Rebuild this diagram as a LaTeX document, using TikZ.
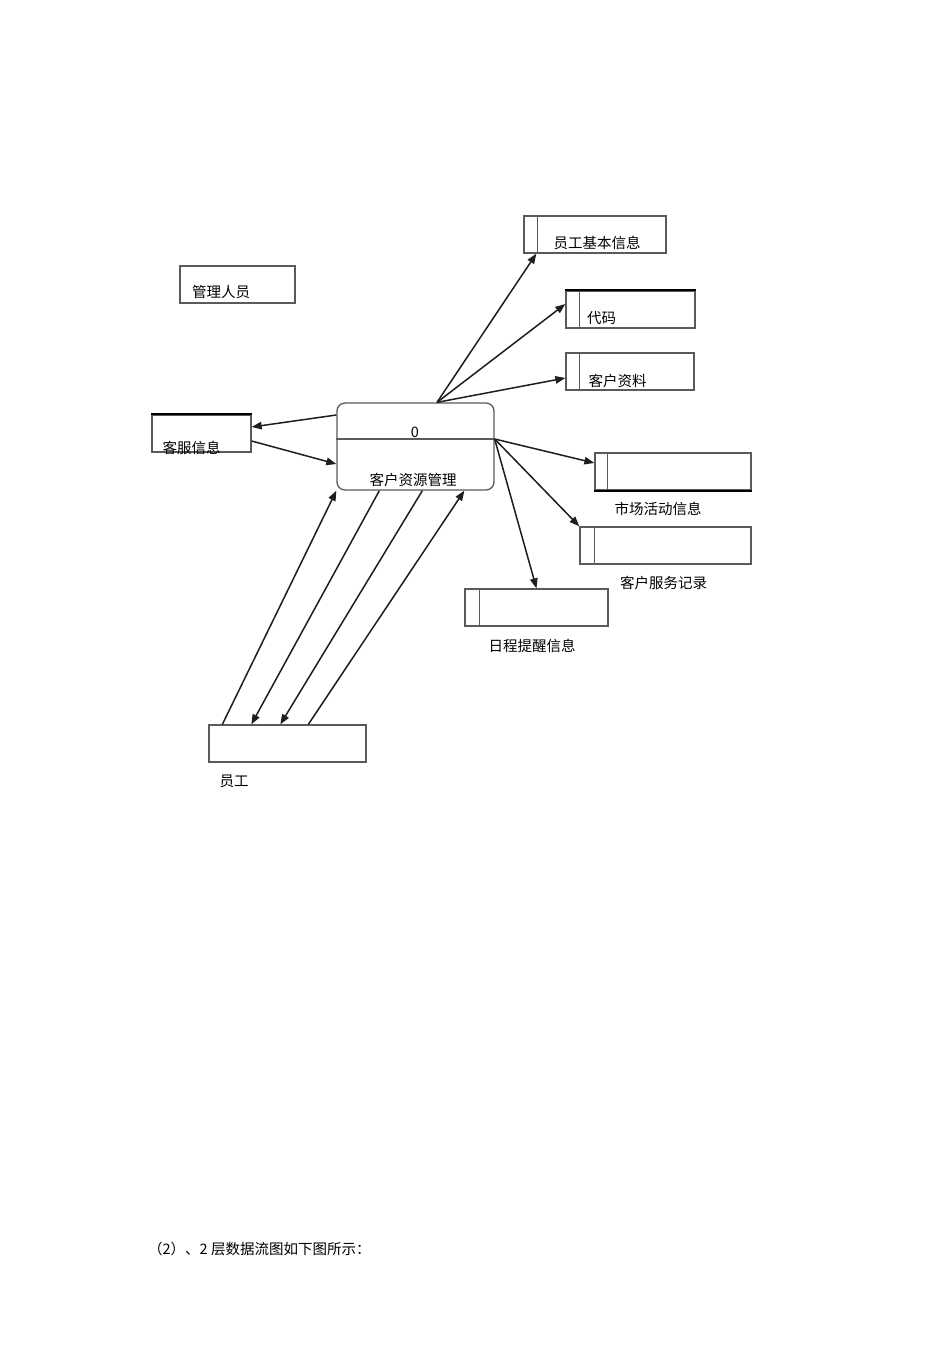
\documentclass[tikz,border=0pt]{standalone}
\usepackage{fontspec}
\newfontfamily\cjk{Noto Sans CJK SC}
\usetikzlibrary{arrows.meta}

\definecolor{boxgray}{HTML}{5A5A5A}
\definecolor{flowblack}{HTML}{1E1E1E}

\tikzset{
  box/.style={draw=boxgray, line width=1.3pt, minimum width=#1, minimum height=37pt, inner sep=0pt},
  lbl/.style={font=\cjk\fontsize{14.5}{16}\selectfont, inner sep=0pt},
  flow/.style={draw=flowblack, line width=1.5pt, -{Triangle[length=10pt,width=7.5pt]}},
}

\begin{document}
\begin{tikzpicture}[x=1pt,y=-1pt]
  \fill[white] (0,0) rectangle (950,1345);
  \useasboundingbox (0,0) rectangle (950,1345);

  % process 0
  \node[draw=boxgray, line width=1.3pt, rounded corners=8pt, minimum width=157pt, minimum height=87pt, inner sep=0pt] (proc) at (415.5,446.5) {};
  \draw[boxgray, line width=1.3pt] ([yshift=7.5pt]proc.west) -- ([yshift=7.5pt]proc.east);
  \node[lbl] (procnum) at (415,432) {0};
  \node[lbl] (procname) at (413,480) {客户资源管理};

  % external entities
  \node[box=115pt] (glry) at (237.5,284.5) {};
  \node[lbl] at (221,292) {管理人员};
  \node[box=99pt] (kfxx) at (201.5,433.5) {};
  \draw[line width=2pt] (kfxx.north west) -- (kfxx.north east);
  \node[lbl] at (191.5,448) {客服信息};
  \node[box=157pt] (yg) at (287.5,743.5) {};
  \node[lbl] at (234,781) {员工};

  % data stores
  \node[box=142pt] (ygjb) at (595,234.5) {};
  \draw[boxgray, line width=1.3pt] ([xshift=14pt]ygjb.north west) -- ([xshift=14pt]ygjb.south west);
  \node[lbl] at (597,243) {员工基本信息};

  \node[box=129pt] (dm) at (630.5,309.5) {};
  \draw[boxgray, line width=1.3pt] ([xshift=14pt]dm.north west) -- ([xshift=14pt]dm.south west);
  \draw[line width=2pt] (dm.north west) -- (dm.north east);
  \node[lbl] at (601.5,318) {代码};

  \node[box=128pt] (khzl) at (630,371.5) {};
  \draw[boxgray, line width=1.3pt] ([xshift=14pt]khzl.north west) -- ([xshift=14pt]khzl.south west);
  \node[lbl] at (617.5,381) {客户资料};

  \node[box=156pt] (schd) at (673,471.5) {};
  \draw[boxgray, line width=1.3pt] ([xshift=13pt]schd.north west) -- ([xshift=13pt]schd.south west);
  \draw[line width=2pt] (schd.south west) -- (schd.south east);
  \node[lbl] at (658,509) {市场活动信息};

  \node[box=171pt] (khfw) at (665.5,545.5) {};
  \draw[boxgray, line width=1.3pt] ([xshift=15pt]khfw.north west) -- ([xshift=15pt]khfw.south west);
  \node[lbl] at (663.5,583) {客户服务记录};

  \node[box=143pt] (rctx) at (536.5,607.5) {};
  \draw[boxgray, line width=1.3pt] ([xshift=15pt]rctx.north west) -- ([xshift=15pt]rctx.south west);
  \node[lbl] at (532,646) {日程提醒信息};

  % flows
  \coordinate (hub) at ([xshift=21.5pt]proc.north);
  \coordinate (fan) at ([yshift=7.5pt]proc.east);
  \draw[flow] ([yshift=31.5pt]proc.west) -- ([yshift=6.5pt]kfxx.east);
  \draw[flow] ([yshift=-7.5pt]kfxx.east) -- ([yshift=-17.5pt]proc.west);
  \draw[flow] (hub) -- ([xshift=13pt]ygjb.south west);
  \draw[flow] (hub) -- ([yshift=5.5pt]dm.west);
  \draw[flow] (hub) -- ([yshift=-6.5pt]khzl.west);
  \draw[flow] (fan) -- ([yshift=8.5pt]schd.west);
  \draw[flow] (fan) -- (khfw.north west);
  \draw[flow] (fan) -- (rctx.north);
  \draw[flow] ([xshift=14pt]yg.north west) -- (proc.south west);
  \draw[flow] ([xshift=43pt]proc.south west) -- ([xshift=43pt]yg.north west);
  \draw[flow] ([xshift=86pt]proc.south west) -- ([xshift=72pt]yg.north west);
  \draw[flow] ([xshift=100pt]yg.north west) -- ([xshift=128pt]proc.south west);

  \node[lbl, anchor=west] (caption) at (148,1249) {（2）、2 层数据流图如下图所示：};
\end{tikzpicture}
\end{document}
